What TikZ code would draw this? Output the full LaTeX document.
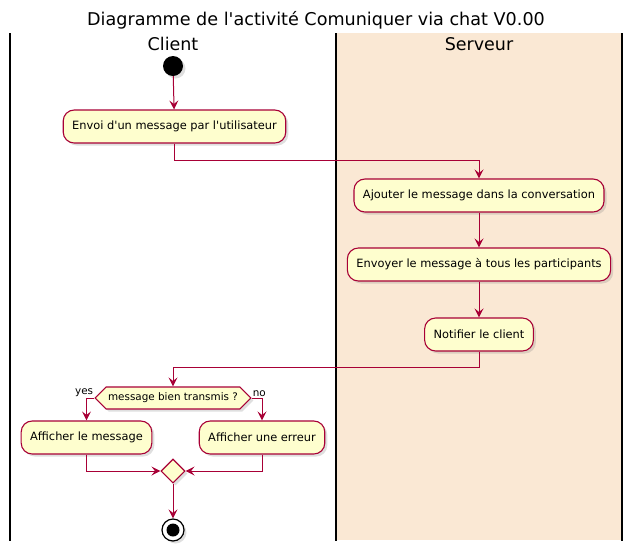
\documentclass[tikz,border=0pt]{standalone}
\usepackage{fontspec}
\setmainfont{DejaVu Sans}
\usepackage{xcolor}
\usetikzlibrary{arrows.meta,shapes.geometric,shapes.symbols,shadows}
\definecolor{umlred}{HTML}{A80036}
\definecolor{umlfill}{HTML}{FEFECE}
\definecolor{lanefill}{HTML}{FAE8D4}

\begin{document}
\begin{tikzpicture}[x=1pt,y=-1pt,every node/.style={font=\fontsize{11.4}{13}\selectfont},
  act/.style={draw=umlred,fill=umlfill,line width=1.1pt,rounded corners=11pt,minimum height=33pt,inner xsep=9pt,
    drop shadow={shadow xshift=2.5pt,shadow yshift=-2.5pt,opacity=0.25}},
  decide/.style={signal,signal to=west and east,draw=umlred,fill=umlfill,line width=1.1pt,minimum height=22pt,inner xsep=2pt,
    font=\fontsize{10.4}{12}\selectfont,drop shadow={shadow xshift=2.5pt,shadow yshift=-2.5pt,opacity=0.25}},
  merge/.style={diamond,draw=umlred,fill=umlfill,line width=1.1pt,minimum size=24pt,inner sep=0pt,
    drop shadow={shadow xshift=2.5pt,shadow yshift=-2.5pt,opacity=0.25}},
  flow/.style={draw=umlred,line width=1pt,-{Stealth[length=9pt,width=9pt,inset=3.5pt]}},
  lane/.style={line width=1.6pt}]
\useasboundingbox (0,0) rectangle (632,550);
% swimlanes
\fill[lanefill] (336,33) rectangle (622,540);
\draw[lane] (10,33) -- (10,541);
\draw[lane] (336,33) -- (336,541);
\draw[lane] (622,33) -- (622,541);
\node (titre) at (316,20) {\fontsize{17.6}{20}\selectfont Diagramme de l\textquotesingle activité Comuniquer via chat V0.00};
\node (client) at (173,44) {\fontsize{17.5}{20}\selectfont Client};
\node (serveur) at (479,44) {\fontsize{17.5}{20}\selectfont Serveur};
% nodes
\node[circle,fill=black,minimum size=20pt,inner sep=0pt,
  drop shadow={shadow xshift=2.5pt,shadow yshift=-2.5pt,opacity=0.25}] (debut) at (173,66) {};
\node[act] (envoi) at (174.5,126.5) {Envoi d\textquotesingle un message par l\textquotesingle utilisateur};
\node[act] (ajout) at (479,195.5) {Ajouter le message dans la conversation};
\node[act] (diffuse) at (479,264.5) {Envoyer le message à tous les participants};
\node[act] (notif) at (479,334.5) {Notifier le client};
\node[decide] (test) at (173,398) {message bien transmis ?};
\node[font=\fontsize{10.4}{12}\selectfont,anchor=south east,inner sep=1pt] (oui) at (test.west) {yes};
\node[font=\fontsize{10.4}{12}\selectfont,anchor=south west,inner sep=1pt] (non) at (test.east) {no};
\node[act] (affiche) at (86.5,437.5) {Afficher le message};
\node[act] (erreur) at (262,437.5) {Afficher une erreur};
\node[merge] (fusion) at (173,471) {};
\node[circle,draw=black,fill=white,line width=1.2pt,minimum size=22pt,inner sep=0pt,
  drop shadow={shadow xshift=2.5pt,shadow yshift=-2.5pt,opacity=0.25}] (fin) at (173,530) {};
\fill (fin) circle (6.5);
% connectors
\draw[flow] (debut) -- (envoi);
\draw[flow] (envoi.south) -- ++(0,17) -| (ajout.north);
\draw[flow] (ajout) -- (diffuse);
\draw[flow] (diffuse) -- (notif);
\draw[flow] (notif.south) -- ++(0,16) -| (test.north);
\draw[flow] (test.west) -| (affiche.north);
\draw[flow] (test.east) -| (erreur.north);
\draw[flow] (affiche.south) |- (fusion.west);
\draw[flow] (erreur.south) |- (fusion.east);
\draw[flow] (fusion) -- (fin);
\end{tikzpicture}
\end{document}
